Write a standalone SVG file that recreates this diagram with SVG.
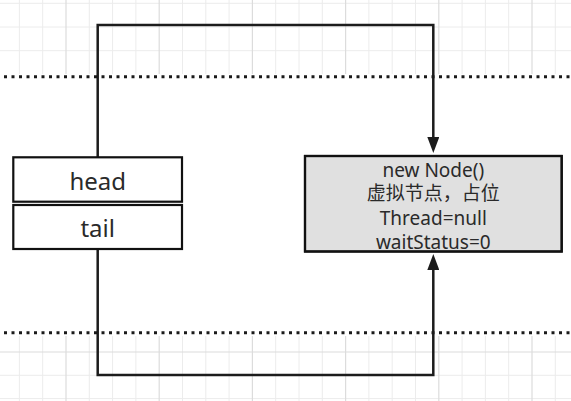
<svg xmlns="http://www.w3.org/2000/svg" width="571" height="401" viewBox="0 0 571 401">
  <defs>
    <style>
      .gmin { stroke: #ececec; stroke-width: 1; }
      .gmaj { stroke: #dcdcdc; stroke-width: 1.2; }
      .sep { stroke: #1a1a1a; stroke-width: 3; stroke-dasharray: 3 4.5; fill: none; }
      .box { fill: #ffffff; stroke: #111111; stroke-width: 2.2; }
      .gbox { fill: #e0e0e0; stroke: #111111; stroke-width: 2.2; }
      .conn { fill: none; stroke: #1c1c1c; stroke-width: 2.5; stroke-linejoin: miter; }
      .lbl { font-family: "Noto Sans", "Noto Sans CJK SC", sans-serif; fill: #2a2a2a; text-anchor: middle; }
      .big { font-size: 24px; }
      .small { font-size: 19px; }
    </style>
    <marker id="arrow" markerUnits="userSpaceOnUse" markerWidth="16" markerHeight="12" refX="0" refY="6" orient="auto">
      <path d="M0,0 L16,6 L0,12 z" fill="#1c1c1c"/>
    </marker>
  </defs>

  <rect x="0" y="0" width="571" height="401" fill="#ffffff"/>

  <g id="grid">
    <g class="gmin">
      <line x1="19.4" y1="0" x2="19.4" y2="401"/>
      <line x1="42.7" y1="0" x2="42.7" y2="401"/>
      <line x1="89.3" y1="0" x2="89.3" y2="401"/>
      <line x1="112.6" y1="0" x2="112.6" y2="401"/>
      <line x1="135.9" y1="0" x2="135.9" y2="401"/>
      <line x1="182.5" y1="0" x2="182.5" y2="401"/>
      <line x1="205.8" y1="0" x2="205.8" y2="401"/>
      <line x1="229.1" y1="0" x2="229.1" y2="401"/>
      <line x1="275.7" y1="0" x2="275.7" y2="401"/>
      <line x1="299" y1="0" x2="299" y2="401"/>
      <line x1="322.3" y1="0" x2="322.3" y2="401"/>
      <line x1="368.9" y1="0" x2="368.9" y2="401"/>
      <line x1="392.2" y1="0" x2="392.2" y2="401"/>
      <line x1="415.5" y1="0" x2="415.5" y2="401"/>
      <line x1="462.1" y1="0" x2="462.1" y2="401"/>
      <line x1="485.4" y1="0" x2="485.4" y2="401"/>
      <line x1="508.7" y1="0" x2="508.7" y2="401"/>
      <line x1="555.3" y1="0" x2="555.3" y2="401"/>
      <line x1="0" y1="3.3" x2="571" y2="3.3"/>
      <line x1="0" y1="27" x2="571" y2="27"/>
      <line x1="0" y1="50.7" x2="571" y2="50.7"/>
      <line x1="0" y1="375.3" x2="571" y2="375.3"/>
      <line x1="0" y1="398.6" x2="571" y2="398.6"/>
    </g>
    <g class="gmaj">
      <line x1="66" y1="0" x2="66" y2="401"/>
      <line x1="159.2" y1="0" x2="159.2" y2="401"/>
      <line x1="252.4" y1="0" x2="252.4" y2="401"/>
      <line x1="345.6" y1="0" x2="345.6" y2="401"/>
      <line x1="438.8" y1="0" x2="438.8" y2="401"/>
      <line x1="532" y1="0" x2="532" y2="401"/>
      <line x1="0" y1="352" x2="571" y2="352"/>
    </g>
    <rect x="0" y="74" width="571" height="262" fill="#ffffff"/>
  </g>

  <g id="separators">
    <line class="sep" x1="4" y1="76.7" x2="571" y2="76.7"/>
    <line class="sep" x1="4" y1="332.7" x2="571" y2="332.7"/>
  </g>

  <g id="connectors">
    <path class="conn" d="M97.7,157.3 L97.7,25 L433.3,25 L433.3,137" marker-end="url(#arrow)"/>
    <path class="conn" d="M97.7,249 L97.7,375 L433.3,375 L433.3,270" marker-end="url(#arrow)"/>
  </g>

  <g id="head">
    <rect class="box" x="13.3" y="157.3" width="168.7" height="44.4"/>
    <text class="lbl big" x="97.7" y="190">head</text>
  </g>

  <g id="tail">
    <rect class="box" x="13.3" y="205" width="168.7" height="44"/>
    <text class="lbl big" x="97.7" y="236.7">tail</text>
  </g>

  <g id="node">
    <rect class="gbox" x="305" y="156" width="256.7" height="95.5"/>
    <text class="lbl small" x="433.3" y="176.5">new Node()</text>
    <text class="lbl small" x="433.3" y="200.3">虚拟节点，占位</text>
    <text class="lbl small" x="433.3" y="225">Thread=null</text>
    <text class="lbl small" x="433.3" y="249.3">waitStatus=0</text>
    <rect x="305" y="156" width="256.7" height="95.5" fill="none" stroke="#111111" stroke-width="2.2"/>
  </g>
</svg>
